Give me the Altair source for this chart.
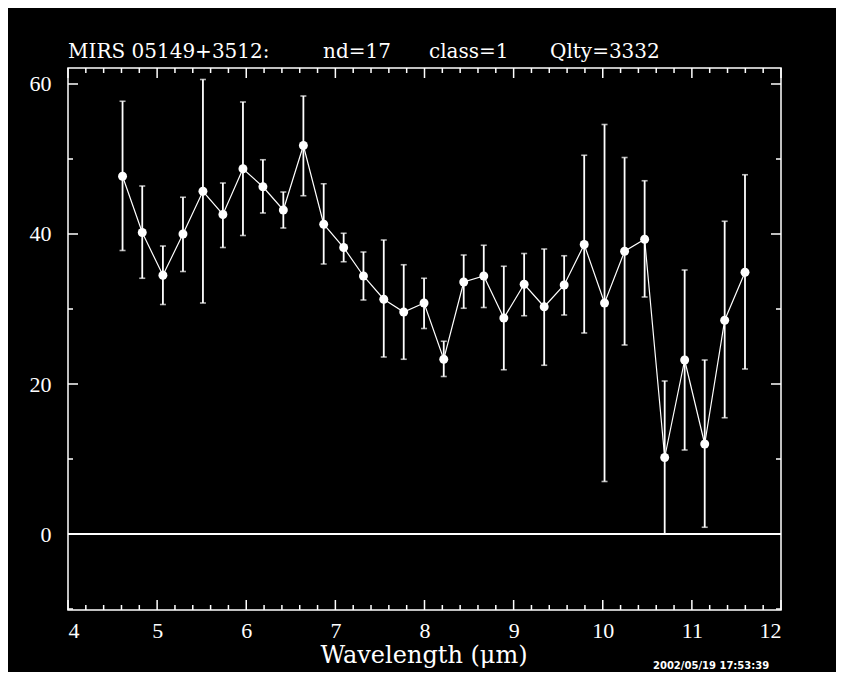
import altair as alt
import pandas as pd
import numpy as np

# ---- data ----
wavelength = [4.612, 4.833, 5.065, 5.290, 5.514, 5.738, 5.963, 6.187, 6.416, 6.641,
              6.869, 7.093, 7.315, 7.543, 7.767, 7.995, 8.216, 8.440, 8.665, 8.890,
              9.118, 9.343, 9.567, 9.792, 10.020, 10.245, 10.470, 10.695, 10.919, 11.144,
              11.368, 11.596]
flux = [47.7, 40.2, 34.5, 40.0, 45.7, 42.6, 48.7, 46.3, 43.2, 51.8,
        41.3, 38.2, 34.4, 31.3, 29.6, 30.8, 23.3, 33.6, 34.4, 28.8,
        33.3, 30.3, 33.2, 38.6, 30.8, 37.7, 39.3, 10.2, 23.2, 12.0,
        28.5, 34.9]
err_hi = [57.7, 46.4, 38.4, 44.9, 60.6, 46.8, 57.6, 49.9, 45.6, 58.4,
          46.7, 40.1, 37.6, 39.2, 35.9, 34.1, 25.7, 37.2, 38.5, 35.7,
          37.4, 38.0, 37.1, 50.5, 54.6, 50.2, 47.1, 20.4, 35.2, 23.2,
          41.7, 47.9]
err_lo = [37.8, 34.1, 30.6, 35.0, 30.8, 38.2, 39.8, 42.8, 40.8, 45.1,
          36.0, 36.3, 31.2, 23.6, 23.3, 27.4, 21.0, 30.1, 30.2, 21.9,
          29.1, 22.5, 29.2, 26.8, 7.0, 25.2, 31.6, 0.0, 11.2, 0.9,
          15.5, 22.0]

x_major = [4, 5, 6, 7, 8, 9, 10, 11, 12]
x_minor = [v for v in np.round(np.arange(4, 12.001, 0.2), 1).tolist() if abs(v - round(v)) > 1e-6]
y_major = [0, 20, 40, 60]
y_minor = [-10, 10, 30, 50]

title_parts = ["MIRS 05149+3512:", "nd=17", "class=1", "Qlty=3332"]
x_title = "Wavelength (μm)"
stamp = "2002/05/19 17:53:39"

W, H = 713, 542
X_DOM = [4, 12]
Y_DOM = [-10.133, 62.133]
SERIF = "Liberation Serif"

df = pd.DataFrame({"wl": wavelength, "flux": flux, "hi": err_hi, "lo": err_lo})

xs = alt.Scale(domain=X_DOM, nice=False, zero=False)
ys = alt.Scale(domain=Y_DOM, nice=False, zero=False)

base = alt.Chart(df)

axes_layer = base.mark_point(opacity=0).encode(
    x=alt.X("wl:Q", scale=xs, axis=alt.Axis(values=x_major, title=None, ticks=False, domain=False,
                                             grid=False, labelFont=SERIF, labelFontSize=22,
                                             labelColor="white", labelPadding=10, format="d")),
    y=alt.Y("flux:Q", scale=ys, axis=alt.Axis(values=y_major, title=None, ticks=False, domain=False,
                                               grid=False, labelFont=SERIF, labelFontSize=22,
                                               labelColor="white", labelPadding=17, format="d")),
)

zero_line = alt.Chart(pd.DataFrame({"z": [0]})).mark_rule(color="white", strokeWidth=2).encode(
    y=alt.Y("z:Q", scale=ys)
)

bars = base.mark_rule(color="white", strokeWidth=1.8).encode(
    x=alt.X("wl:Q", scale=xs), y=alt.Y("lo:Q", scale=ys), y2="hi:Q"
)
cap_hi = base.mark_tick(color="white", orient="horizontal", size=6, thickness=1.6).encode(
    x=alt.X("wl:Q", scale=xs), y=alt.Y("hi:Q", scale=ys)
)
cap_lo = base.mark_tick(color="white", orient="horizontal", size=6, thickness=1.6).encode(
    x=alt.X("wl:Q", scale=xs), y=alt.Y("lo:Q", scale=ys)
)
line = base.mark_line(color="white", strokeWidth=1.2).encode(
    x=alt.X("wl:Q", scale=xs), y=alt.Y("flux:Q", scale=ys)
)
pts = base.mark_circle(color="white", opacity=1, size=80).encode(
    x=alt.X("wl:Q", scale=xs), y=alt.Y("flux:Q", scale=ys)
)

def xticks(vals, length):
    d = alt.Chart(pd.DataFrame({"t": vals}))
    bot = d.mark_rule(color="white", strokeWidth=1.5).encode(
        x=alt.X("t:Q", scale=xs), y=alt.value(H), y2=alt.value(H - length))
    top = d.mark_rule(color="white", strokeWidth=1.5).encode(
        x=alt.X("t:Q", scale=xs), y=alt.value(0), y2=alt.value(length))
    return [bot, top]

def yticks(vals, length):
    d = alt.Chart(pd.DataFrame({"t": vals}))
    left = d.mark_rule(color="white", strokeWidth=1.5).encode(
        y=alt.Y("t:Q", scale=ys), x=alt.value(0), x2=alt.value(length))
    right = d.mark_rule(color="white", strokeWidth=1.5).encode(
        y=alt.Y("t:Q", scale=ys), x=alt.value(W), x2=alt.value(W - length))
    return [left, right]

tick_layers = xticks(x_major, 10) + xticks(x_minor, 5) + yticks(y_major, 10) + yticks(y_minor, 5)

title_x = [0, 255, 361, 482]
title_layers = []
for txt, px in zip(title_parts, title_x):
    title_layers.append(
        alt.Chart(pd.DataFrame({"s": [txt]})).mark_text(
            font="DejaVu Serif", fontSize=20, color="white", align="left", baseline="alphabetic"
        ).encode(text="s:N", x=alt.value(px), y=alt.value(-10))
    )

xlabel = alt.Chart(pd.DataFrame({"s": [x_title]})).mark_text(
    font="DejaVu Serif", fontSize=24, color="white", align="center", baseline="alphabetic"
).encode(text="s:N", x=alt.value(356), y=alt.value(H + 53))

stamp_layer = alt.Chart(pd.DataFrame({"s": [stamp]})).mark_text(
    font="DejaVu Sans", fontSize=10, fontWeight="bold", color="white", align="left", baseline="bottom"
).encode(text="s:N", x=alt.value(585), y=alt.value(H + 61))

chart = alt.layer(
    axes_layer, zero_line, bars, cap_hi, cap_lo, line, pts,
    *tick_layers, *title_layers, xlabel, stamp_layer
).properties(
    width=W, height=H,
    background="black",
    padding={"left": 60, "top": 60, "right": 55, "bottom": 62},
    autosize=alt.AutoSizeParams(type="none"),
).configure_view(stroke="white", strokeWidth=1.5)

chart.save("out.html", embed_options={"renderer": "svg", "actions": False})
